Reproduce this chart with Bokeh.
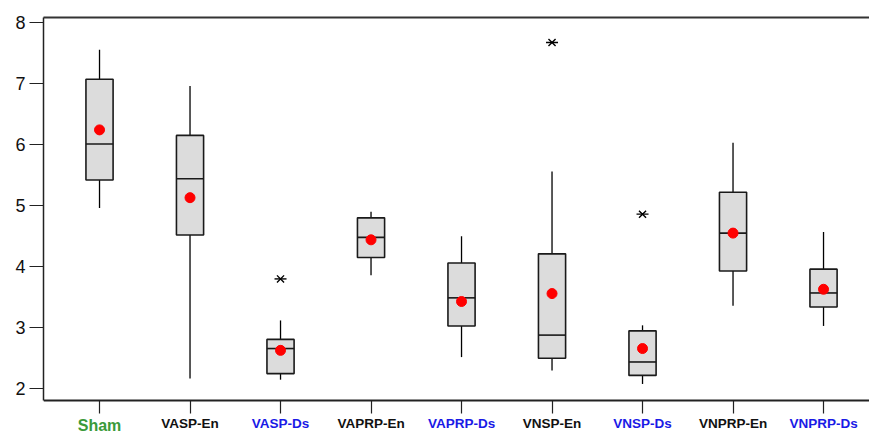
from bokeh.plotting import figure
from bokeh.models import ColumnDataSource, Range1d, LinearAxis, FixedTicker
from bokeh.core.properties import value
from bokeh.embed import file_html
from bokeh.resources import INLINE

categories = ["Sham", "VASP-En", "VASP-Ds", "VAPRP-En", "VAPRP-Ds",
              "VNSP-En", "VNSP-Ds", "VNPRP-En", "VNPRP-Ds"]
whisker_low = [4.96, 2.17, 2.15, 3.86, 2.52, 2.30, 2.08, 3.36, 3.03]
q1 = [5.42, 4.52, 2.25, 4.15, 3.03, 2.50, 2.22, 3.93, 3.34]
median = [6.01, 5.44, 2.66, 4.48, 3.49, 2.88, 2.44, 4.55, 3.57]
q3 = [7.07, 6.15, 2.81, 4.80, 4.06, 4.21, 2.95, 5.22, 3.96]
whisker_high = [7.55, 6.96, 3.12, 4.90, 4.50, 5.56, 3.04, 6.03, 4.57]
mean = [6.24, 5.13, 2.63, 4.44, 3.43, 3.56, 2.66, 4.55, 3.63]
outlier_group = ["VASP-Ds", "VNSP-En", "VNSP-Ds"]
outlier_value = [3.80, 7.67, 4.86]
label_colors = ["#3a9a3a", "#111111", "#1a1ae6", "#111111", "#1a1ae6",
                "#111111", "#1a1ae6", "#111111", "#1a1ae6"]
y_ticks = [2, 3, 4, 5, 6, 7, 8]

Y_AXIS_MIN = 1.81   # value where the x axis sits
Y_AXIS_MAX = 8.08
PX_PER_UNIT = 61.0
BOTTOM_PX = 33      # room below the x axis for ticks and labels

xs = list(range(len(categories)))
BW = 0.30
src = ColumnDataSource(dict(
    x=xs, left=[x - BW / 2 for x in xs], right=[x + BW / 2 for x in xs],
    wl=whisker_low, q1=q1, med=median, q3=q3, wh=whisker_high, mean=mean,
))
lab_src = ColumnDataSource(dict(
    x=xs, y=[Y_AXIS_MIN] * len(xs), text=categories, color=label_colors,
    size=["16px"] + ["13.5px"] * (len(xs) - 1),
    off=[25] + [23] * (len(xs) - 1),
))
out_src = ColumnDataSource(dict(
    x=[categories.index(g) for g in outlier_group], y=outlier_value))

p = figure(width=869, height=433, output_backend="svg", toolbar_location=None,
           x_range=Range1d(-0.619, 8.508),
           y_range=Range1d(Y_AXIS_MIN - BOTTOM_PX / PX_PER_UNIT, Y_AXIS_MAX),
           min_border_left=43, min_border_right=0, min_border_top=17,
           min_border_bottom=0)
p.xgrid.visible = False
p.ygrid.visible = False
p.outline_line_color = None
p.background_fill_color = "white"
p.border_fill_color = "white"

# whiskers
p.segment(x0="x", y0="wl", x1="x", y1="q1", source=src, line_color="black", line_width=1.3)
p.segment(x0="x", y0="q3", x1="x", y1="wh", source=src, line_color="black", line_width=1.3)
# boxes
p.quad(left="left", right="right", bottom="q1", top="q3", source=src,
       fill_color="#dcdcdc", line_color="#1a1a1a", line_width=1.6)
p.segment(x0="left", y0="med", x1="right", y1="med", source=src,
          line_color="#1a1a1a", line_width=1.6)
# means
p.scatter(x="x", y="mean", source=src, size=10, marker="circle",
          fill_color="#ff0000", line_color="#ff0000")
# outliers (x with a horizontal bar)
p.scatter(x="x", y="y", source=out_src, marker="x", size=10,
          line_color="black", line_width=1.4)
p.scatter(x="x", y="y", source=out_src, marker="dash", size=12,
          line_color="black", line_width=1.4)

# y axis
ya = p.yaxis[0]
ya.ticker = FixedTicker(ticks=y_ticks)
ya.bounds = (Y_AXIS_MIN, Y_AXIS_MAX)
ya.major_tick_out = 14
ya.major_tick_in = 0
ya.minor_tick_line_color = None
ya.major_label_text_font = "Liberation Sans"
ya.major_label_text_font_size = "18px"
ya.major_label_text_color = "#111111"
ya.major_label_standoff = 4
ya.axis_line_width = 1.5
ya.axis_line_color = "#222222"
ya.major_tick_line_color = "#222222"
ya.major_tick_line_width = 1.2

# x axis (ticks only; coloured labels drawn as text below)
xa = p.xaxis[0]
xa.fixed_location = Y_AXIS_MIN
xa.ticker = FixedTicker(ticks=xs)
xa.major_tick_out = 13
xa.major_tick_in = 0
xa.minor_tick_line_color = None
xa.major_label_overrides = {i: "" for i in xs}
xa.major_label_text_font_size = "8px"
xa.major_label_standoff = 0
xa.axis_line_width = 2.2
xa.axis_line_color = "#222222"
xa.major_tick_line_color = "#222222"
xa.major_tick_line_width = 1.2

# top border
top = LinearAxis(ticker=FixedTicker(ticks=[]), major_label_text_font_size="8px",
                 axis_line_width=2, axis_line_color="#333333",
                 major_tick_line_color=None, minor_tick_line_color=None)
p.add_layout(top, "above")

p.text(x="x", y="y", text="text", source=lab_src, y_offset="off",
       text_color="color", text_font_size="size",
       text_font=value("Liberation Sans"), text_font_style="bold",
       text_align="center", text_baseline="middle")

open("out.html", "w").write(file_html(p, INLINE))
